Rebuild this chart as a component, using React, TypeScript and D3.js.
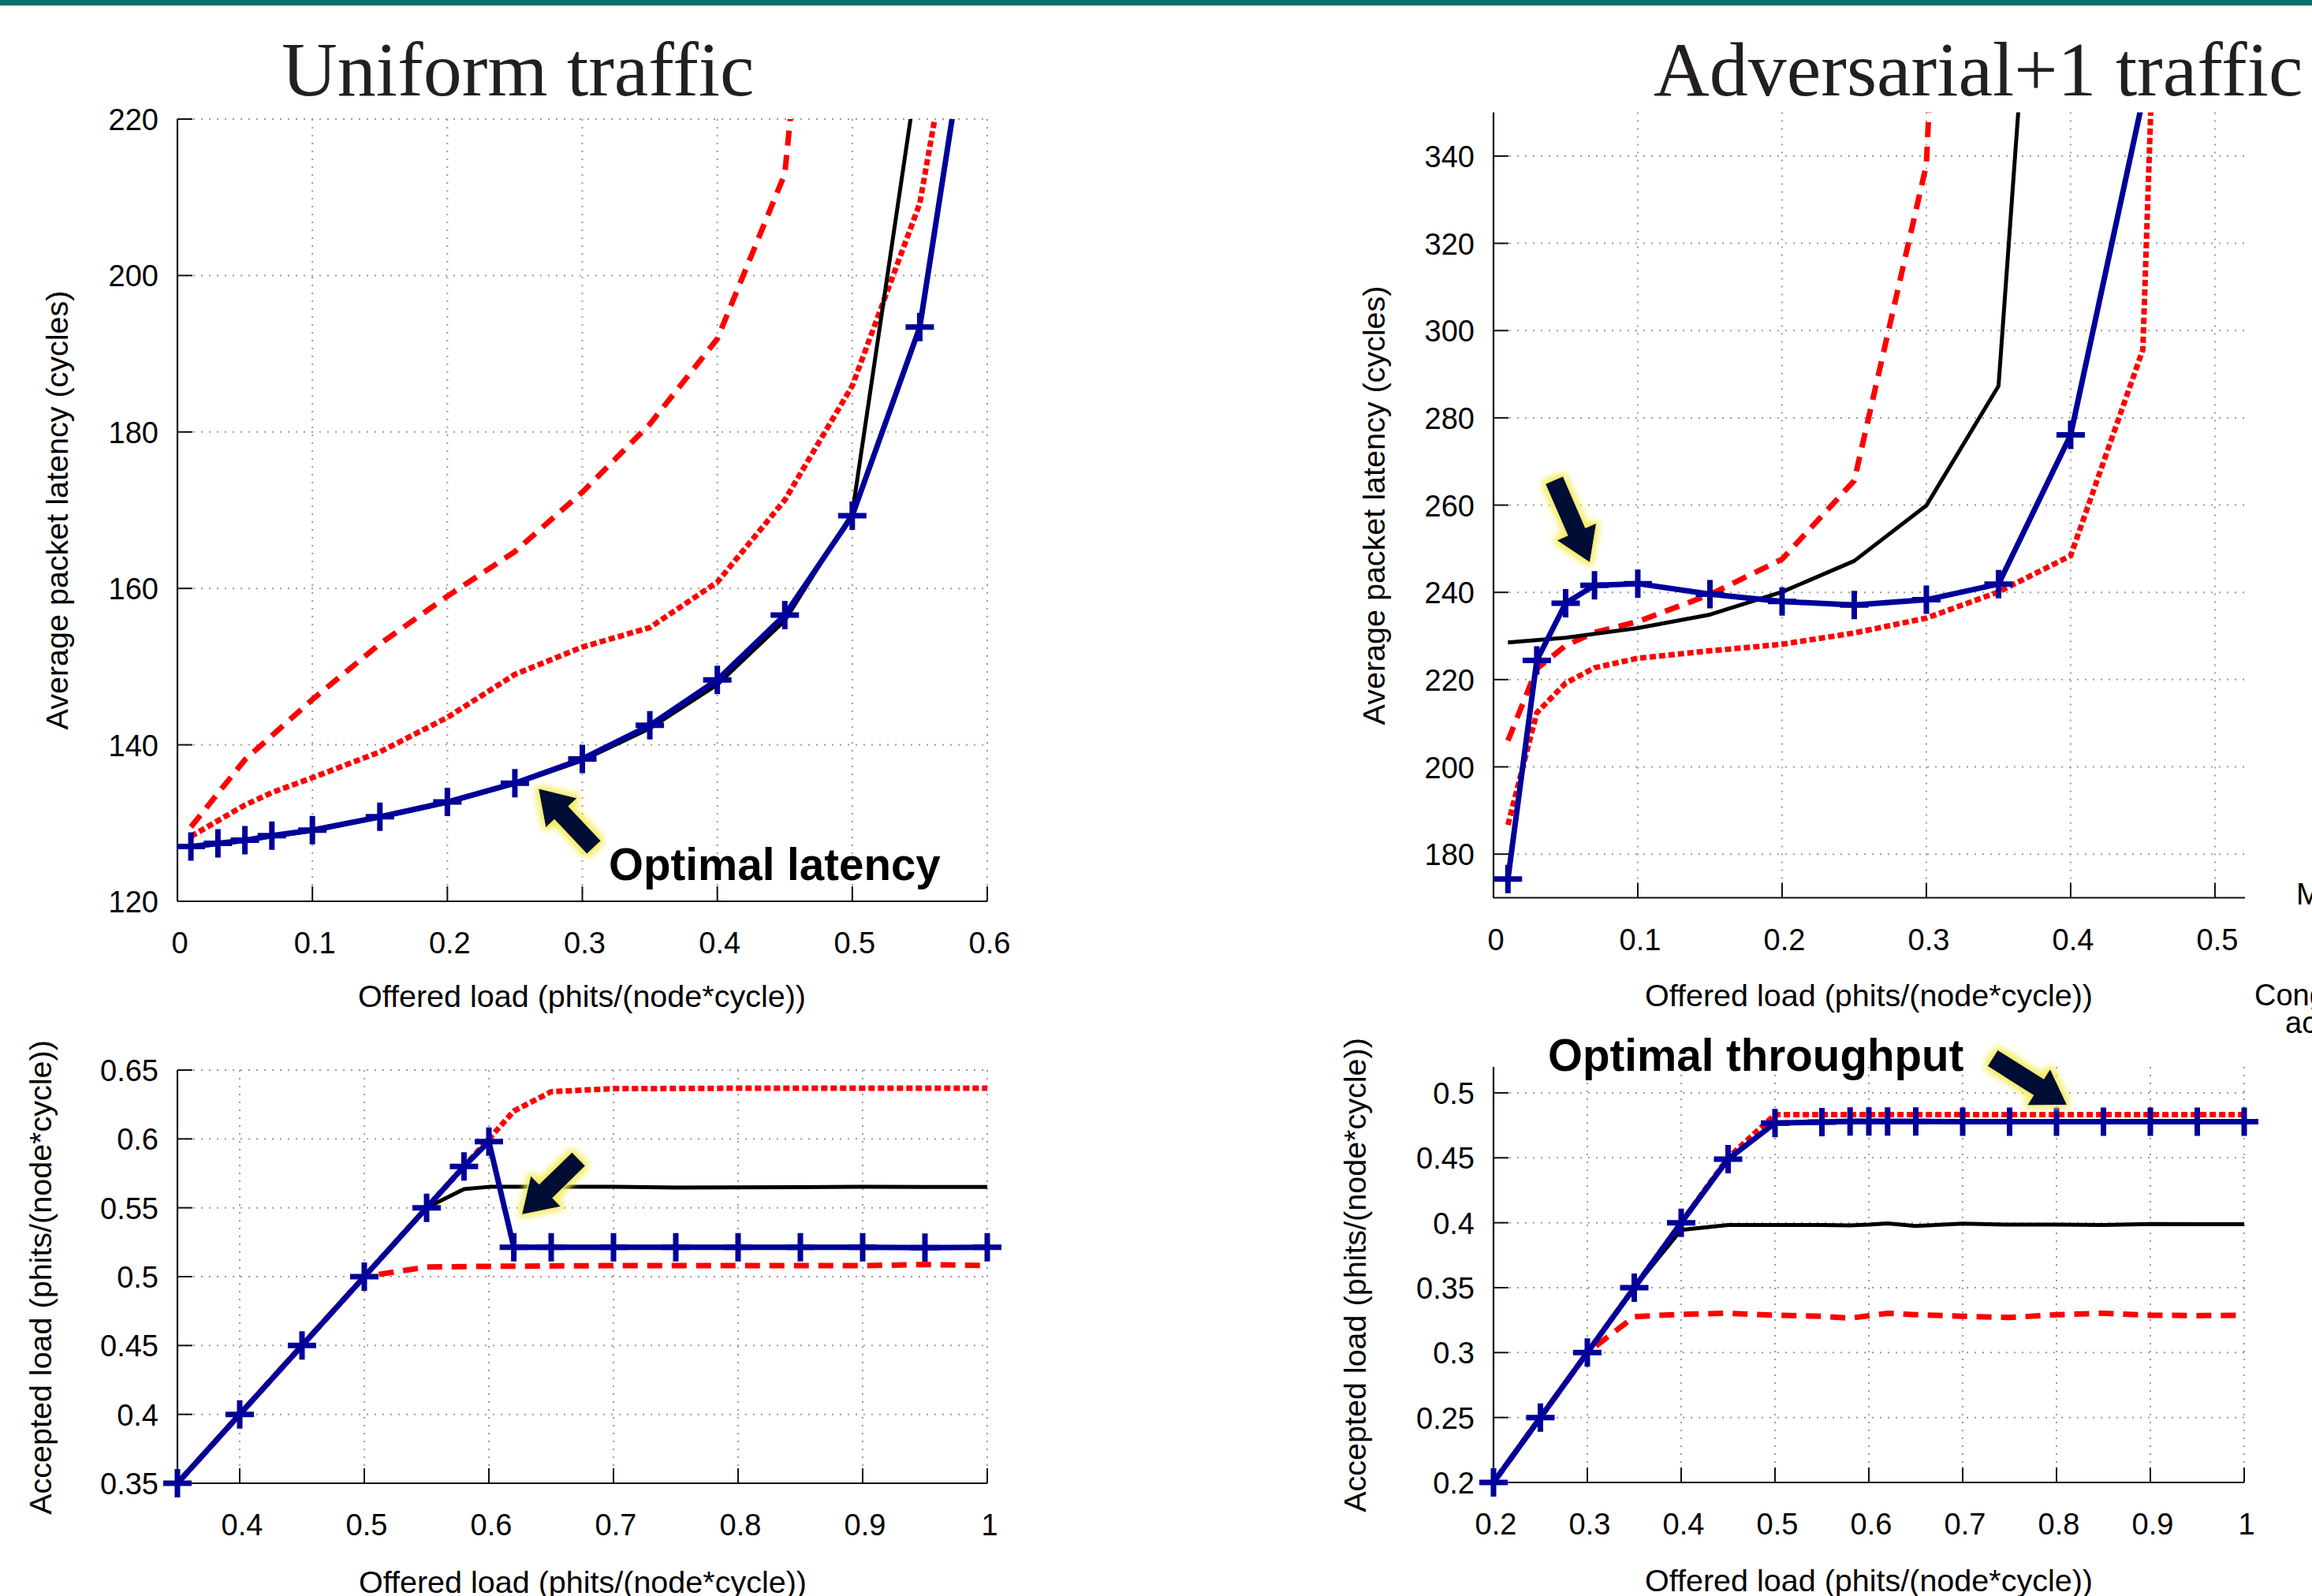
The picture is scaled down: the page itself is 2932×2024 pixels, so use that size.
import React from "react";
import * as d3 from "d3";

// ---------- data ----------

// Uniform traffic, latency
const uniLatBlueX = [0.01, 0.03, 0.05, 0.07, 0.1, 0.15, 0.2, 0.25, 0.3, 0.35, 0.4, 0.45, 0.5, 0.55, 0.6];
const uniLatBlue = [127.0, 127.4, 127.8, 128.4, 129.1, 130.8, 132.7, 135.1, 138.2, 142.5, 148.3, 156.6, 169.3, 193.4, 249];
const uniLatBlack = [126.9, 127.3, 127.7, 128.3, 129.0, 130.7, 132.6, 135.0, 138.0, 142.1, 147.7, 155.9, 169.6, 228, 300];
const uniLatDashX = [0.01, 0.05, 0.1, 0.15, 0.2, 0.25, 0.3, 0.35, 0.4, 0.45, 0.5];
const uniLatDash = [129.5, 138.1, 145.8, 152.9, 159.0, 164.7, 172.3, 181.0, 191.9, 213.0, 300];
const uniLatDotX = [0.01, 0.05, 0.07, 0.1, 0.15, 0.2, 0.25, 0.3, 0.35, 0.4, 0.45, 0.5, 0.55, 0.6];
const uniLatDot = [128.3, 132.3, 133.9, 135.8, 139.1, 143.5, 149.0, 152.5, 155.0, 160.8, 171.3, 185.9, 209.2, 258];

// Adversarial+1 traffic, latency
const advLatBlueX = [0.01, 0.03, 0.05, 0.07, 0.1, 0.15, 0.2, 0.25, 0.3, 0.35, 0.4, 0.45];
const advLatBlue = [174.3, 224.4, 237.5, 241.6, 242.0, 239.6, 237.9, 237.1, 238.3, 241.9, 276.1, 353];
const advLatBlackX = [0.01, 0.05, 0.1, 0.15, 0.2, 0.25, 0.3, 0.35, 0.4];
const advLatBlack = [228.5, 229.6, 231.8, 234.9, 240.1, 247.2, 259.9, 287.3, 517];
const advLatDashX = [0.01, 0.03, 0.05, 0.07, 0.1, 0.15, 0.2, 0.25, 0.3, 0.35];
const advLatDash = [206.0, 222.5, 227.8, 230.8, 233.3, 239.5, 247.6, 265.6, 338, 700];
const advLatDotX = [0.01, 0.03, 0.05, 0.07, 0.1, 0.15, 0.2, 0.25, 0.3, 0.35, 0.4, 0.45, 0.46];
const advLatDot = [186.7, 212.4, 219.2, 222.7, 224.9, 226.6, 228.1, 230.7, 234.1, 240.1, 248.4, 295.6, 395];

// Uniform traffic, throughput
const uniThrX = [0.35, 0.4, 0.45, 0.5, 0.55, 0.58, 0.6, 0.62, 0.65, 0.7, 0.75, 0.8, 0.85, 0.9, 0.95, 1.0];
const uniThrBlue = [0.35, 0.4, 0.45, 0.5, 0.55, 0.58, 0.598, 0.5213, 0.5213, 0.5213, 0.5213, 0.5213, 0.5213, 0.5213, 0.5211, 0.5213];
const uniThrBlack = [0.35, 0.4, 0.45, 0.5, 0.55, 0.5636, 0.5652, 0.5652, 0.5652, 0.5652, 0.5647, 0.5649, 0.565, 0.5652, 0.5651, 0.5651];
const uniThrDotX = [0.35, 0.4, 0.45, 0.5, 0.55, 0.6, 0.62, 0.65, 0.7, 0.8, 0.9, 1.0];
const uniThrDot = [0.35, 0.4, 0.45, 0.5, 0.55, 0.6, 0.6202, 0.6343, 0.6365, 0.6368, 0.6368, 0.6368];
const uniThrDashX = [0.35, 0.4, 0.45, 0.5, 0.55, 0.6, 0.7, 0.8, 0.9, 0.95, 1.0];
const uniThrDash = [0.35, 0.4, 0.45, 0.5, 0.507, 0.5075, 0.508, 0.508, 0.508, 0.5088, 0.508];

// Adversarial+1 traffic, throughput
const advThrX = [0.2, 0.25, 0.3, 0.35, 0.4, 0.45, 0.5, 0.55, 0.58, 0.6, 0.62, 0.65, 0.7, 0.75, 0.8, 0.85, 0.9, 0.95, 1.0];
const advThrBlue = [0.2, 0.25, 0.3, 0.35, 0.4, 0.449, 0.4767, 0.4775, 0.478, 0.478, 0.478, 0.478, 0.4778, 0.4778, 0.4778, 0.4778, 0.4778, 0.4778, 0.4778];
const advThrBlack = [0.2, 0.25, 0.3, 0.35, 0.3945, 0.3983, 0.3983, 0.3983, 0.398, 0.3985, 0.3994, 0.3975, 0.3993, 0.3985, 0.3985, 0.3983, 0.399, 0.3988, 0.3988];
const advThrDotX = [0.2, 0.25, 0.3, 0.35, 0.4, 0.45, 0.5, 0.6, 0.7, 0.8, 0.9, 1.0];
const advThrDot = [0.2, 0.25, 0.3, 0.35, 0.4, 0.45, 0.4833, 0.4833, 0.4833, 0.4833, 0.4833, 0.4833];
const advThrDashX = [0.2, 0.25, 0.3, 0.35, 0.4, 0.45, 0.5, 0.55, 0.58, 0.62, 0.65, 0.7, 0.75, 0.8, 0.85, 0.9, 0.95, 1.0];
const advThrDash = [0.2, 0.25, 0.3, 0.3277, 0.3295, 0.3303, 0.3288, 0.328, 0.3265, 0.3303, 0.3292, 0.328, 0.327, 0.3292, 0.3303, 0.3288, 0.3285, 0.3288];

// ticks
const uniLatXTicks = [0, 0.1, 0.2, 0.3, 0.4, 0.5, 0.6];
const uniLatYTicks = [120, 140, 160, 180, 200, 220];
const advLatXTicks = [0, 0.1, 0.2, 0.3, 0.4, 0.5];
const advLatYTicks = [180, 200, 220, 240, 260, 280, 300, 320, 340];
const uniThrXTicks = [0.4, 0.5, 0.6, 0.7, 0.8, 0.9, 1];
const uniThrYTicks = [0.35, 0.4, 0.45, 0.5, 0.55, 0.6, 0.65];
const advThrXTicks = [0.2, 0.3, 0.4, 0.5, 0.6, 0.7, 0.8, 0.9, 1];
const advThrYTicks = [0.2, 0.25, 0.3, 0.35, 0.4, 0.45, 0.5];

const LAT_LABEL = "Average packet latency (cycles)";
const THR_LABEL = "Accepted load (phits/(node*cycle))";
const LOAD_LABEL = "Offered load (phits/(node*cycle))";

// ---------- styles ----------
const BLUE = "#00009a";
const RED = "#ff0000";
const SANS = "'Liberation Sans', Arial, sans-serif";
const SERIF = "'Liberation Serif', 'Times New Roman', serif";

type Kind = "blue" | "black" | "dash" | "dot";
type Series = { kind: Kind; x: number[]; y: number[] };
type Note = { tail: [number, number]; tip: [number, number]; text?: string; at?: [number, number] };

const lineStyle: Record<Kind, any> = {
  dash: { stroke: RED, strokeWidth: 7, strokeDasharray: "19,12" },
  dot: { stroke: RED, strokeWidth: 7, strokeDasharray: "8,4" },
  black: { stroke: "#000", strokeWidth: 5 },
  blue: { stroke: BLUE, strokeWidth: 7 },
};

const fmt = (v: number) => String(+v.toFixed(2));

function arrowPath(x1: number, y1: number, x2: number, y2: number) {
  const shaft = 24, head = 54, headLen = 42;
  const dx = x2 - x1, dy = y2 - y1;
  const L = Math.hypot(dx, dy);
  const ux = dx / L, uy = dy / L, px = -uy, py = ux;
  const bx = x2 - ux * headLen, by = y2 - uy * headLen;
  const pts = [
    [x1 + (px * shaft) / 2, y1 + (py * shaft) / 2],
    [bx + (px * shaft) / 2, by + (py * shaft) / 2],
    [bx + (px * head) / 2, by + (py * head) / 2],
    [x2, y2],
    [bx - (px * head) / 2, by - (py * head) / 2],
    [bx - (px * shaft) / 2, by - (py * shaft) / 2],
    [x1 - (px * shaft) / 2, y1 - (py * shaft) / 2],
  ];
  return "M" + pts.map((p) => p[0].toFixed(1) + "," + p[1].toFixed(1)).join("L") + "Z";
}

type PanelProps = {
  id: string;
  box: { left: number; right: number; top: number; bottom: number };
  xDomain: [number, number];
  yDomain: [number, number];
  xTicks: number[];
  yTicks: number[];
  series: Series[];
  xTitle: { x: number; y: number };
  yTitle: { x: number; y: number; text: string };
  note: Note;
};

function Panel(p: PanelProps) {
  const { box } = p;
  const x = d3.scaleLinear().domain(p.xDomain).range([box.left, box.right]);
  const y = d3.scaleLinear().domain(p.yDomain).range([box.bottom, box.top]);
  const line = d3
    .line<[number, number]>()
    .x((d) => x(d[0]))
    .y((d) => y(d[1]));
  const tick = 19;
  const grid = { stroke: "#9a9a9a", strokeWidth: 2, strokeDasharray: "2,8" };
  const n = p.note;
  const [tx1, ty1] = [x(n.tail[0]), y(n.tail[1])];
  const [tx2, ty2] = [x(n.tip[0]), y(n.tip[1])];

  return (
    <g>
      <defs>
        <clipPath id={"clip-" + p.id}>
          <rect x={box.left - 12} y={box.top} width={box.right - box.left + 24} height={box.bottom - box.top + 12} />
        </clipPath>
      </defs>
      {/* grid */}
      {p.xTicks
        .filter((t) => Math.abs(x(t) - box.left) > 1)
        .map((t) => (
          <line key={"gx" + t} x1={x(t)} x2={x(t)} y1={box.top} y2={box.bottom} {...grid} />
        ))}
      {p.yTicks
        .filter((t) => Math.abs(y(t) - box.bottom) > 1)
        .map((t) => (
          <line key={"gy" + t} x1={box.left} x2={box.right} y1={y(t)} y2={y(t)} {...grid} />
        ))}
      {/* axes */}
      <line x1={box.left} x2={box.left} y1={box.top} y2={box.bottom} stroke="#111" strokeWidth={2.2} />
      <line x1={box.left} x2={box.right} y1={box.bottom} y2={box.bottom} stroke="#111" strokeWidth={2.2} />
      {p.xTicks.map((t) => (
        <g key={"tx" + t}>
          <line x1={x(t)} x2={x(t)} y1={box.bottom} y2={box.bottom - tick} stroke="#111" strokeWidth={2} />
          <text x={x(t) + 3} y={box.bottom + 66} textAnchor="middle" fontFamily={SANS} fontSize={38} fill="#000">
            {fmt(t)}
          </text>
        </g>
      ))}
      {p.yTicks.map((t) => (
        <g key={"ty" + t}>
          <line x1={box.left} x2={box.left + tick} y1={y(t)} y2={y(t)} stroke="#111" strokeWidth={2} />
          <text x={box.left - 24} y={y(t) + 14} textAnchor="end" fontFamily={SANS} fontSize={38} fill="#000">
            {fmt(t)}
          </text>
        </g>
      ))}
      {/* axis titles */}
      <text x={p.xTitle.x} y={p.xTitle.y} textAnchor="middle" fontFamily={SANS} fontSize={39.5} fill="#000">
        {LOAD_LABEL}
      </text>
      <text
        transform={`translate(${p.yTitle.x},${p.yTitle.y}) rotate(-90)`}
        textAnchor="middle"
        fontFamily={SANS}
        fontSize={39.5}
        fill="#000"
      >
        {p.yTitle.text}
      </text>
      {/* series */}
      <g clipPath={`url(#clip-${p.id})`}>
        {p.series.map((s, i) => (
          <path
            key={"s" + i}
            d={line(s.x.map((v, j) => [v, s.y[j]] as [number, number])) || ""}
            fill="none"
            strokeLinejoin="round"
            {...lineStyle[s.kind]}
          />
        ))}
      </g>
      {p.series
        .filter((s) => s.kind === "blue")
        .map((s, i) => (
          <g key={"m" + i}>
            {s.x.map((v, j) =>
              s.y[j] <= p.yDomain[1] ? (
                <path
                  key={j}
                  d={`M${x(v) - 18},${y(s.y[j])}H${x(v) + 18}M${x(v)},${y(s.y[j]) - 18}V${y(s.y[j]) + 18}`}
                  stroke={BLUE}
                  strokeWidth={7}
                  fill="none"
                />
              ) : null
            )}
          </g>
        ))}
      {/* annotation arrow */}
      <path d={arrowPath(tx1, ty1, tx2, ty2)} fill="#050d36" filter="url(#glow)" />
      {n.text && n.at ? (
        <text x={x(n.at[0])} y={y(n.at[1])} fontFamily={SANS} fontWeight="bold" fontSize={56.5} fill="#000">
          {n.text}
        </text>
      ) : null}
    </g>
  );
}

export default function App() {
  return (
    <div style={{ position: "absolute", left: 0, top: 0 }}>
      <svg width={2932} height={2024} viewBox="0 0 2932 2024" style={{ display: "block", background: "#fff" }}>
        <defs>
          <filter id="glow" x="-60%" y="-60%" width="220%" height="220%">
            <feMorphology in="SourceAlpha" operator="dilate" radius="4" result="dil" />
            <feGaussianBlur in="dil" stdDeviation="4" result="blur" />
            <feFlood floodColor="#f4ec5c" result="col" />
            <feComposite in="col" in2="blur" operator="in" result="halo" />
            <feMerge>
              <feMergeNode in="halo" />
              <feMergeNode in="SourceGraphic" />
            </feMerge>
          </filter>
        </defs>
        <rect x={0} y={0} width={2932} height={2024} fill="#fff" />
        <rect x={0} y={0} width={2932} height={7} fill="#037370" />

        <text x={357} y={121} fontFamily={SERIF} fontSize={98} fill="#231f20">
          Uniform traffic
        </text>
        <text x={2097} y={121} fontFamily={SERIF} fontSize={98} fill="#231f20">
          Adversarial+1 traffic
        </text>

        <Panel
          id="ul"
          box={{ left: 225, right: 1252, top: 151, bottom: 1143 }}
          xDomain={[0, 0.6]}
          yDomain={[120, 220]}
          xTicks={uniLatXTicks}
          yTicks={uniLatYTicks}
          series={[
            { kind: "dash", x: uniLatDashX, y: uniLatDash },
            { kind: "dot", x: uniLatDotX, y: uniLatDot },
            { kind: "black", x: uniLatBlueX, y: uniLatBlack },
            { kind: "blue", x: uniLatBlueX, y: uniLatBlue },
          ]}
          xTitle={{ x: 738, y: 1277 }}
          yTitle={{ x: 86, y: 647, text: LAT_LABEL }}
          note={{ tail: [0.3085, 126.9], tip: [0.2676, 134.4], text: "Optimal latency", at: [0.3196, 122.7] }}
        />

        <Panel
          id="al"
          box={{ left: 1894, right: 2847, top: 142.6, bottom: 1138.5 }}
          xDomain={[0, 0.5208]}
          yDomain={[170, 350]}
          xTicks={advLatXTicks}
          yTicks={advLatYTicks}
          series={[
            { kind: "dash", x: advLatDashX, y: advLatDash },
            { kind: "dot", x: advLatDotX, y: advLatDot },
            { kind: "black", x: advLatBlackX, y: advLatBlack },
            { kind: "blue", x: advLatBlueX, y: advLatBlue },
          ]}
          xTitle={{ x: 2370, y: 1276 }}
          yTitle={{ x: 1756, y: 641, text: LAT_LABEL }}
          note={{ tail: [0.0421, 265.7], tip: [0.0667, 246.9] }}
        />

        <Panel
          id="ut"
          box={{ left: 225, right: 1252, top: 1357, bottom: 1881 }}
          xDomain={[0.35, 1]}
          yDomain={[0.35, 0.65]}
          xTicks={uniThrXTicks}
          yTicks={uniThrYTicks}
          series={[
            { kind: "dash", x: uniThrDashX, y: uniThrDash },
            { kind: "dot", x: uniThrDotX, y: uniThrDot },
            { kind: "black", x: uniThrX, y: uniThrBlack },
            { kind: "blue", x: uniThrX, y: uniThrBlue },
          ]}
          xTitle={{ x: 739, y: 2020 }}
          yTitle={{ x: 65, y: 1620, text: THR_LABEL }}
          note={{ tail: [0.672, 0.5853], tip: [0.6266, 0.5452] }}
        />

        <Panel
          id="at"
          box={{ left: 1894, right: 2846, top: 1353, bottom: 1880 }}
          xDomain={[0.2, 1]}
          yDomain={[0.2, 0.52]}
          xTicks={advThrXTicks}
          yTicks={advThrYTicks}
          series={[
            { kind: "dash", x: advThrDashX, y: advThrDash },
            { kind: "dot", x: advThrDotX, y: advThrDot },
            { kind: "black", x: advThrX, y: advThrBlack },
            { kind: "blue", x: advThrX, y: advThrBlue },
          ]}
          xTitle={{ x: 2370, y: 2018 }}
          yTitle={{ x: 1732, y: 1617, text: THR_LABEL }}
          note={{ tail: [0.732, 0.5267], tip: [0.811, 0.4908], text: "Optimal throughput", at: [0.258, 0.517] }}
        />

        {/* text of the neighbouring column, cut by the page edge */}
        <text x={2912} y={1147} fontFamily={SANS} fontSize={38} fill="#000">
          M
        </text>
        <text x={2859} y={1275} fontFamily={SANS} fontSize={38} fill="#000">
          Cong
        </text>
        <text x={2898} y={1310} fontFamily={SANS} fontSize={38} fill="#000">
          ac
        </text>
      </svg>
    </div>
  );
}
